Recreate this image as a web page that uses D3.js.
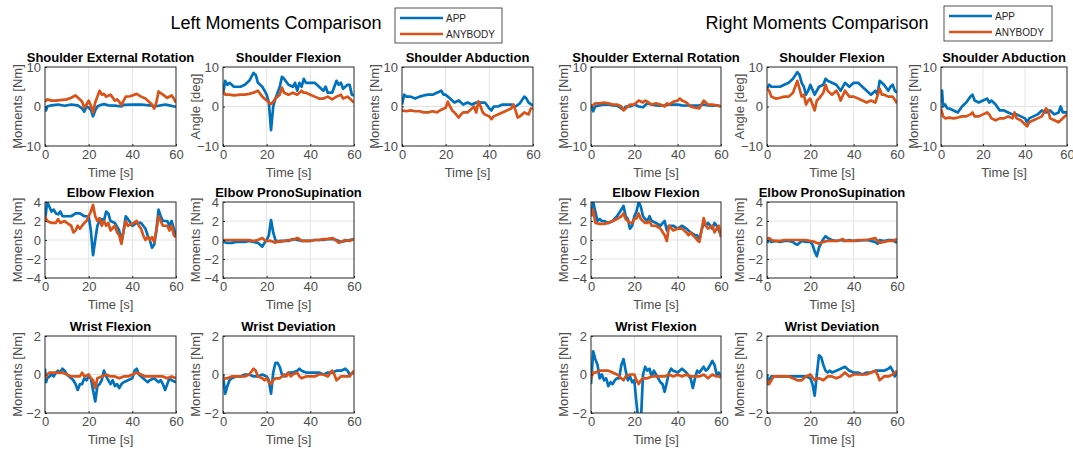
<!DOCTYPE html>
<html>
<head>
<meta charset="utf-8">
<script src="https://cdn.jsdelivr.net/npm/d3@7"></script>
<style>
body { margin: 0; background: #fff; }
svg { display: block; font-family: "Liberation Sans", Arial, sans-serif; }
</style>
</head>
<body>
<svg id="chart" width="1073" height="451"></svg>
<script>
// tick labels / legend
const xTicks = [0, 20, 40, 60]
const yTicksShoulder = [-10, 0, 10]
const yTicksElbow = [-4, -2, 0, 2, 4]
const yTicksWrist = [-2, 0, 2]
const seriesNames = ['APP', 'ANYBODY']
const groupTitles = ['Left Moments Comparison', 'Right Moments Comparison']

// --- left side, [time s, value] ---
const lShExtApp = [[0,0],[0.5,-1],[1,0],[3,0.3],[6,0.5],[9,0.2],[12,0.5],[15,0.3],[17,-0.5],[18,-1.3],[19,0],[20,-0.3],[21,-0.8],[22,-2.5],[23,-1],[24,0],[25,0.3],[27,0.6],[29,0.3],[32,0.2],[35,0],[36,0.4],[40,0.5],[44,0.5],[48,0.3],[50,0],[52,0.2],[55,0.5],[57,0.3],[59,0],[60,0]]
const lShExtAny = [[0,1.2],[1,1.8],[3,1.5],[5,1.5],[8,1.7],[10,1.8],[12,2.2],[14,2.8],[16,1.8],[17,1.2],[18,-0.3],[19,0.5],[20,1.5],[21,0.2],[22,-1.5],[23,1],[24,2.5],[25,4],[26,3],[27,3.2],[28,2.5],[30,3],[32,1.5],[33,1.8],[34,1.2],[35,0.3],[36,1.5],[37,2.5],[39,2.6],[42,3.2],[44,2.5],[46,2],[48,1],[49,0.5],[50,-0.5],[51,1],[52,3.8],[54,3],[56,2.2],[58,2.8],[59,2],[60,1]]
const lShFlexApp = [[0,3],[1,6.5],[2,5.5],[3,6],[5,5],[8,5],[10,5.5],[12,6.5],[14,8.5],[15,8],[16,6],[18,5],[19,4],[20,3],[21,1],[22,-6],[23,0],[24,2],[26,5],[27,7.5],[28,7],[30,5.5],[32,5],[33,6],[34,4],[35,6],[36,5],[37,7],[38,6],[40,6],[42,6],[44,5],[46,4],[47,5],[48,3.5],[50,3.5],[52,6.5],[53,5.5],[54,6],[55,4.5],[57,5.5],[58,5.5],[59,3],[60,2.8]]
const lShFlexAny = [[0,4],[1,3],[3,3],[5,2.8],[8,3],[10,3],[12,3.2],[14,3.5],[16,4],[18,2.5],[20,1.5],[21,1],[22,0.6],[23,1.2],[24,2],[26,3],[27,4.8],[28,3.5],[30,3],[32,3.5],[34,3],[36,4],[37,3.5],[38,3.5],[40,3],[42,2.5],[44,2],[46,2],[48,2.5],[50,1.8],[52,2.5],[54,3],[55,2],[57,2.5],[58,2],[60,1]]
const lShAbdApp = [[0,0.5],[1,3],[2,2.5],[4,2.5],[6,2],[8,2.5],[10,2.8],[12,3],[14,3],[16,3.5],[18,4],[19,3],[20,3],[22,2],[24,1],[26,1.5],[28,0.5],[30,1],[32,0.5],[34,1],[36,1],[38,1],[40,-0.5],[41,-1],[42,0],[44,0],[46,0.5],[48,0.5],[50,0.5],[52,0],[54,0.8],[56,2.5],[57,2],[58,1],[60,0.2]]
const lShAbdAny = [[0,-1],[2,-1.2],[4,-1],[6,-1.2],[8,-1.2],[10,-1.5],[12,-1.5],[14,-1.2],[16,-1.5],[18,-0.8],[20,-0.3],[21,1.2],[22,0],[23,-1],[24,-1.5],[26,-2.8],[27,-2],[28,-1.5],[30,-1.5],[32,-0.5],[33,0],[34,-1.5],[35,1.3],[36,0],[37,-1.5],[38,-2],[40,-2.5],[41,-3.2],[42,-2.5],[44,-2],[46,-1.5],[48,-1],[50,-0.5],[51,0.5],[52,-1],[53,-2.8],[54,-2.5],[56,-1.5],[58,-2],[59,-0.5],[60,-0.5]]
const lElFlexApp = [[0,2],[1,4],[2,3.5],[3,3],[4,3.2],[5,2.8],[6,2.7],[7,3],[8,2.5],[10,2.5],[12,2.5],[14,2.8],[16,2.8],[18,2.5],[20,2.5],[21,1],[22,-1.6],[23,0],[24,1.5],[25,2],[26,2.2],[27,2],[28,3],[29,2.8],[30,2],[32,1.8],[34,1],[35,-0.3],[36,1],[37,2.5],[38,2.2],[40,1.5],[42,1.8],[44,1.8],[45,1.5],[46,1.2],[47,0.5],[48,0],[49,-0.8],[50,-0.5],[51,1],[52,3.2],[53,2.5],[54,2],[56,2],[57,1.5],[58,2],[59,1.2],[60,0.3]]
const lElFlexAny = [[0,2.5],[1,2],[3,1.8],[5,1.8],[6,2.2],[7,1.8],[9,2],[10,1.8],[12,1.5],[13,0.8],[14,1],[15,1.5],[16,1.2],[17,1.5],[18,1.8],[19,2],[20,2.5],[21,3],[22,3.7],[23,2.5],[24,2],[25,2.3],[26,1.5],[27,2],[28,1.5],[29,1.8],[30,1],[32,1.5],[33,0.8],[34,0.5],[35,-0.4],[36,1],[37,2],[38,1.5],[40,1.7],[42,2],[43,1.5],[44,1.2],[45,0.5],[46,0],[47,0.3],[48,0],[49,0.3],[50,-0.2],[51,1],[52,2.5],[53,2],[54,1.5],[56,1.5],[57,1],[58,1.5],[59,0.5],[60,0.3]]
const lElProApp = [[0,-0.2],[2,-0.3],[4,-0.3],[6,-0.2],[8,-0.2],[10,-0.2],[12,-0.1],[14,-0.2],[16,-0.3],[17,-0.5],[18,-0.7],[19,-0.3],[20,0],[21,0.5],[22,2.1],[23,0.8],[24,0],[25,-0.2],[26,-0.1],[30,-0.1],[32,0.1],[34,0],[36,-0.1],[40,-0.1],[42,0],[46,0],[48,0.1],[50,0.1],[52,0],[54,-0.2],[56,-0.1],[58,0],[60,0.1]]
const lElProAny = [[0,0],[4,0],[8,0],[12,0],[14,-0.1],[16,0],[18,0.2],[19,0],[20,-0.1],[22,-0.1],[24,-0.3],[25,-0.1],[26,-0.2],[28,-0.1],[30,0],[32,0],[34,0.2],[35,0.1],[36,-0.1],[40,-0.1],[42,0],[44,0],[46,0.1],[48,0.1],[50,0.2],[51,0.1],[52,-0.1],[53,-0.3],[54,-0.2],[56,0],[58,-0.1],[60,0.1]]
const lWrFlexApp = [[0,0.3],[0.5,-0.4],[1,-0.2],[2,-0.1],[3,0],[4,-0.1],[5,0.1],[6,0.2],[7,0.1],[8,0.3],[9,0.2],[10,0],[12,-0.2],[13,-0.3],[14,-0.5],[15,-0.8],[16,-0.5],[17,-0.5],[18,-0.2],[19,-0.3],[20,-0.1],[21,-0.2],[22,-0.8],[23,-1.4],[24,-0.6],[25,-0.5],[26,-0.3],[27,0.2],[28,-0.1],[30,-0.5],[31,-0.3],[32,-0.6],[33,-0.5],[34,-0.7],[35,-0.5],[36,-0.4],[38,-0.3],[40,-0.2],[41,0.2],[42,0.3],[43,0],[44,-0.1],[46,-0.3],[47,-0.4],[48,-0.3],[50,-0.2],[52,-0.4],[53,-0.3],[54,-0.5],[55,-0.8],[56,-0.5],[57,-0.2],[58,-0.3],[60,-0.4]]
const lWrFlexAny = [[0,-0.2],[1,0],[2,0.1],[4,0.1],[6,0.1],[8,0.1],[10,0],[12,-0.1],[14,-0.1],[16,-0.1],[17,0.1],[18,-0.1],[20,0],[21,-0.2],[22,-0.3],[23,-0.7],[24,-0.2],[26,-0.1],[28,0],[30,-0.1],[32,-0.1],[34,-0.2],[36,-0.1],[38,-0.1],[40,0],[42,0.1],[44,0],[46,-0.1],[50,-0.1],[54,-0.1],[56,-0.2],[58,-0.1],[60,-0.2]]
const lWrDevApp = [[0,0],[0.5,-0.5],[1,-1],[2,-0.6],[3,-0.3],[4,-0.2],[6,-0.1],[8,-0.1],[10,0],[12,0],[14,-0.1],[16,-0.1],[18,0],[20,-0.1],[21,-0.3],[22,-1],[23,0.1],[24,0.6],[25,0.6],[26,0.4],[27,0],[28,-0.1],[29,0],[30,0.1],[32,0.1],[34,0.2],[35,0.3],[36,0.2],[38,0.1],[44,0.1],[46,0],[48,0.1],[50,0.1],[52,0.2],[54,0.2],[56,0.3],[57,0.2],[58,0],[60,0.1]]
const lWrDevAny = [[0,-0.2],[2,-0.2],[4,-0.1],[10,-0.1],[12,0],[14,0.3],[15,0.2],[16,-0.1],[18,-0.2],[19,-0.3],[20,-0.2],[21,-0.4],[22,-0.5],[23,-0.3],[24,-0.2],[26,-0.2],[28,0],[29,-0.1],[30,0.1],[31,-0.1],[32,0],[34,0.1],[35,-0.1],[36,-0.2],[38,-0.1],[42,-0.1],[44,0],[46,0],[48,-0.1],[50,0.2],[51,0],[52,-0.3],[54,-0.1],[58,-0.1],[60,0.2]]

// --- right side ---
const rShExtApp = [[0,0.5],[1,-1.2],[2,0],[4,0.3],[6,0.5],[8,0.5],[10,0.3],[12,0.2],[14,-0.5],[15,-0.8],[16,0],[18,0],[20,0.5],[22,0],[24,-0.2],[25,0.3],[26,0.8],[28,0.5],[30,0.3],[32,0.2],[34,0.3],[36,0.5],[40,0.5],[42,0.3],[48,0.2],[50,0.3],[52,0.5],[54,0.3],[56,0.2],[58,0.3],[60,0]]
const rShExtAny = [[0,0],[1,0.3],[2,0.8],[4,0.8],[6,1],[8,0.8],[10,0.5],[12,0.5],[14,0],[15,-1],[16,-0.5],[18,0.5],[20,0.5],[22,1.5],[24,1],[25,1.5],[26,1.2],[28,0.5],[30,0.8],[32,0.5],[34,0],[35,0.8],[36,0.5],[38,1.2],[40,1.5],[41,2],[42,1.5],[44,1],[46,0],[48,-0.3],[50,-0.5],[51,0.5],[52,1.5],[54,0.5],[56,0.5],[58,0.3],[60,0]]
const rShFlexApp = [[0,4.5],[1,5.5],[2,5],[4,5],[6,5],[8,5.5],[10,6],[12,7],[14,8.7],[15,8],[16,6],[17,5],[18,3],[19,4],[20,5.5],[22,3],[24,5],[26,5.5],[27,7],[28,6.5],[30,6],[32,5.5],[34,4],[36,6],[38,5],[40,6],[42,6],[44,5],[46,4],[48,3],[50,4],[51,3],[52,6.5],[54,5.5],[56,4],[57,5],[58,5.5],[59,4],[60,3.5]]
const rShFlexAny = [[0,4.5],[1,4],[2,2.5],[4,2],[6,2.2],[8,2.5],[10,2.5],[12,3.5],[14,6.5],[15,4.5],[16,2.5],[17,3],[18,0.5],[19,1.5],[20,2],[21,0.5],[22,-1],[23,1.5],[24,2],[26,3.5],[27,5.5],[28,4],[30,3],[32,4],[33,3],[34,1.5],[36,4],[38,2.5],[40,2.5],[42,2],[44,1.5],[46,1],[48,1.5],[50,1],[52,4.5],[53,3],[54,3],[56,2.5],[58,2.5],[60,0.8]]
const rShAbdApp = [[0,1],[0.5,4],[1,0],[2,0.5],[3,-0.5],[4,-0.5],[6,-1],[8,-1.5],[10,0],[12,1],[14,2.5],[15,3],[16,1.5],[18,1],[20,1.5],[22,2],[23,1],[24,1.5],[26,0.5],[28,-1],[30,-1],[32,-1.5],[34,-2],[36,-2],[38,-2.5],[40,-3],[41,-4],[42,-3],[44,-2.5],[46,-2],[48,-1],[50,-1.5],[52,-1],[54,-2],[56,-1.5],[57,0],[58,-1.5],[60,-1.5]]
const rShAbdAny = [[0,-0.5],[1,-2.5],[2,-3],[4,-2.8],[6,-3],[8,-2.8],[10,-2.5],[12,-2.5],[14,-2],[15,-1.5],[16,-2.5],[18,-2.5],[20,-2],[22,-1.5],[23,-2],[24,-3],[26,-3.5],[28,-3],[30,-3],[32,-2.5],[34,-3],[35,-1.5],[36,-3],[38,-3.5],[40,-4.5],[41,-5],[42,-4],[44,-3.5],[46,-3],[48,-2.5],[50,-0.5],[51,-1],[52,-3],[54,-3.5],[56,-4],[58,-3],[60,-2]]
const rElFlexApp = [[0,2.5],[1,4],[2,3],[3,2],[4,2.2],[5,2],[6,2],[8,1.8],[10,2],[12,2.5],[14,3.2],[15,3.6],[16,2.5],[17,2.2],[18,1.2],[19,1.5],[20,2.5],[21,3],[22,4],[23,3.5],[24,2.5],[25,2.2],[26,2],[27,2.5],[28,2],[30,1.8],[32,1.5],[34,2],[35,1],[36,1.5],[38,1.5],[40,1.2],[42,1.5],[44,1.2],[45,1],[46,0.8],[48,0.5],[49,0.5],[50,0],[51,1],[52,1.8],[53,1.5],[54,1.8],[56,1.2],[57,1.8],[58,1.5],[59,1],[60,0.5]]
const rElFlexAny = [[0,2.5],[1,3.2],[2,1.8],[4,1.7],[6,1.7],[8,1.8],[10,2],[12,2.2],[14,2.5],[15,2.8],[16,2.2],[18,1.8],[19,1.8],[20,2.2],[21,2.3],[22,2.8],[23,2.2],[24,2],[25,1.8],[26,1.8],[27,2],[28,1.5],[30,1.5],[32,1.2],[34,0.5],[35,-0.1],[36,1.5],[38,1],[40,1.2],[42,1.2],[43,1],[44,0.8],[45,0.5],[46,0.8],[47,0.5],[48,0.3],[49,0],[50,-0.2],[51,1],[52,2.3],[53,1.5],[54,1.2],[56,1.5],[57,0.8],[58,1.2],[59,1.5],[60,0.3]]
const rElProApp = [[0,-0.3],[1,0],[2,-0.2],[4,-0.1],[6,-0.2],[8,-0.1],[10,-0.1],[12,-0.2],[13,-0.4],[14,-0.5],[15,-0.3],[16,-0.1],[18,-0.2],[20,-0.2],[21,-0.5],[22,-1.2],[23,-1.7],[24,-0.8],[25,-0.3],[26,0.1],[27,0.4],[28,0.2],[30,0],[32,-0.1],[34,0],[36,-0.1],[38,0],[40,-0.1],[46,0],[48,-0.1],[50,-0.2],[51,-0.4],[52,0],[54,-0.1],[56,0],[58,0],[60,-0.3]]
const rElProAny = [[0,0.1],[1,0.2],[2,0],[4,-0.1],[6,-0.1],[8,0],[18,0],[20,-0.1],[22,-0.2],[24,-0.4],[25,-0.3],[26,-0.2],[28,-0.1],[32,-0.1],[34,0],[35,0.1],[36,-0.1],[40,-0.1],[42,0],[46,0],[48,0.1],[50,0.2],[51,-0.1],[52,-0.3],[54,-0.2],[56,-0.1],[58,-0.1],[60,0.1]]
const rWrFlexApp = [[0,-0.5],[0.5,0.3],[1,1.2],[2,0.8],[3,0.5],[4,-0.2],[5,0],[6,-0.3],[7,-0.2],[8,-0.6],[9,-0.4],[10,-0.5],[11,-0.3],[12,-0.2],[13,-0.2],[14,0.5],[15,0.8],[16,0.2],[17,-0.3],[18,-0.1],[19,-0.4],[20,-0.3],[21,-1.5],[22,-2.5],[23,-2.5],[24,0],[25,0.4],[26,0.2],[27,0.3],[28,-0.1],[29,0.2],[30,0],[32,-0.4],[33,-0.5],[34,-0.9],[35,-0.4],[36,0.1],[37,0.3],[38,0.2],[40,0.1],[42,0.3],[44,0.1],[46,-0.2],[47,-0.7],[48,-0.2],[49,0.2],[50,0.1],[52,0.4],[53,0.2],[54,0.3],[55,0.5],[56,0.7],[57,0.5],[58,0],[59,0.1],[60,-0.2]]
const rWrFlexAny = [[0,-0.2],[1,0.1],[2,0.1],[4,0.2],[6,0.2],[8,0.2],[10,0.1],[12,0],[14,-0.2],[15,-0.3],[16,-0.1],[18,0],[20,0],[21,-0.3],[22,-0.5],[23,-0.3],[24,-0.2],[26,-0.2],[28,-0.1],[34,-0.1],[36,0],[38,-0.1],[40,0],[42,-0.1],[44,0],[46,-0.1],[50,-0.1],[52,0],[54,-0.2],[56,0],[58,-0.1],[60,-0.1]]
const rWrDevApp = [[0,0],[0.5,-0.5],[1,-0.3],[2,-0.1],[18,-0.1],[20,-0.2],[21,-0.5],[22,-1.1],[23,0],[24,1],[25,0.9],[26,0.5],[27,0.2],[28,0.1],[29,0.2],[30,0.1],[32,0.2],[34,0.3],[36,0.4],[37,0.3],[38,0.2],[40,0.1],[42,0.1],[44,0],[46,0.1],[48,0.1],[50,0.2],[54,0.2],[56,0.3],[57,0.4],[58,0.2],[59,-0.1],[60,0.1]]
const rWrDevAny = [[0,-0.3],[1,-0.5],[2,-0.3],[3,-0.1],[10,-0.1],[12,-0.2],[14,-0.3],[16,-0.3],[17,-0.2],[18,-0.1],[20,0],[22,-0.3],[23,-0.2],[24,-0.2],[26,-0.3],[28,-0.1],[30,-0.1],[32,-0.2],[34,-0.1],[35,0],[36,0.1],[38,-0.1],[40,0],[46,0],[48,0.1],[50,0.2],[51,0],[52,-0.3],[54,-0.1],[56,-0.1],[58,0],[60,0.2]]

const COLORS = ['#0072BD', '#D95319']
const TEXT = '#262626'
const LABEL = '#4d4d4d'

/*
* Layout
*/
const colX = [[45, 223, 402], [591, 767, 941]]
const colW = [[131, 131, 131], [130, 130, 126]]
const rows = [{ top: 67, h: 79 }, { top: 202, h: 76 }, { top: 336, h: 77 }]

const panels = [
  // left
  { side: 0, row: 0, col: 0, title: 'Shoulder External Rotation', yl: 'Moments [Nm]', ticks: yTicksShoulder, app: lShExtApp, any: lShExtAny },
  { side: 0, row: 0, col: 1, title: 'Shoulder Flexion', yl: 'Angle [deg]', ticks: yTicksShoulder, app: lShFlexApp, any: lShFlexAny },
  { side: 0, row: 0, col: 2, title: 'Shoulder Abduction', yl: 'Moments [Nm]', ticks: yTicksShoulder, app: lShAbdApp, any: lShAbdAny },
  { side: 0, row: 1, col: 0, title: 'Elbow Flexion', yl: 'Moments [Nm]', ticks: yTicksElbow, app: lElFlexApp, any: lElFlexAny },
  { side: 0, row: 1, col: 1, title: 'Elbow PronoSupination', yl: 'Moments [Nm]', ticks: yTicksElbow, app: lElProApp, any: lElProAny },
  { side: 0, row: 2, col: 0, title: 'Wrist Flexion', yl: 'Moments [Nm]', ticks: yTicksWrist, app: lWrFlexApp, any: lWrFlexAny },
  { side: 0, row: 2, col: 1, title: 'Wrist Deviation', yl: 'Moments [Nm]', ticks: yTicksWrist, app: lWrDevApp, any: lWrDevAny },
  // right
  { side: 1, row: 0, col: 0, title: 'Shoulder External Rotation', yl: 'Moments [Nm]', ticks: yTicksShoulder, app: rShExtApp, any: rShExtAny },
  { side: 1, row: 0, col: 1, title: 'Shoulder Flexion', yl: 'Angle [deg]', ticks: yTicksShoulder, app: rShFlexApp, any: rShFlexAny },
  { side: 1, row: 0, col: 2, title: 'Shoulder Abduction', yl: 'Moments [Nm]', ticks: yTicksShoulder, app: rShAbdApp, any: rShAbdAny },
  { side: 1, row: 1, col: 0, title: 'Elbow Flexion', yl: 'Moments [Nm]', ticks: yTicksElbow, app: rElFlexApp, any: rElFlexAny },
  { side: 1, row: 1, col: 1, title: 'Elbow PronoSupination', yl: 'Moments [Nm]', ticks: yTicksElbow, app: rElProApp, any: rElProAny },
  { side: 1, row: 2, col: 0, title: 'Wrist Flexion', yl: 'Moments [Nm]', ticks: yTicksWrist, app: rWrFlexApp, any: rWrFlexAny },
  { side: 1, row: 2, col: 1, title: 'Wrist Deviation', yl: 'Moments [Nm]', ticks: yTicksWrist, app: rWrDevApp, any: rWrDevAny }
]

const svg = d3.select('#chart')

panels.forEach((p, i) => {
  const x0 = colX[p.side][p.col]
  const r = rows[p.row]
  const w = colW[p.side][p.col], h = r.h
  const yDom = d3.extent(p.ticks)

  const xScale = d3.scaleLinear().domain([0, 60]).range([0, w])
  const yScale = d3.scaleLinear().domain(yDom).range([h, 0])

  const g = svg.append('g').attr('transform', `translate(${x0},${r.top})`)

  // grid
  g.append('g').selectAll('line')
    .data(xTicks.slice(1, -1))
    .join('line')
    .attr('x1', d => xScale(d)).attr('x2', d => xScale(d))
    .attr('y1', 0).attr('y2', h)
    .attr('stroke', '#e3e3e3').attr('stroke-width', 1)
  g.append('g').selectAll('line')
    .data(p.ticks.slice(1, -1))
    .join('line')
    .attr('y1', d => yScale(d)).attr('y2', d => yScale(d))
    .attr('x1', 0).attr('x2', w)
    .attr('stroke', '#e3e3e3').attr('stroke-width', 1)

  // lines
  const clipId = 'clip' + i
  g.append('clipPath').attr('id', clipId)
    .append('rect').attr('x', 0).attr('y', 0).attr('width', w).attr('height', h)

  const line = d3.line().x(d => xScale(d[0])).y(d => yScale(d[1]))
  g.append('g').attr('clip-path', `url(#${clipId})`)
    .selectAll('path')
    .data([p.app, p.any])
    .join('path')
    .attr('d', line)
    .attr('fill', 'none')
    .attr('stroke', (d, k) => COLORS[k])
    .attr('stroke-width', 2.7)
    .attr('stroke-linejoin', 'round')

  // axes
  const ax = g.append('g').attr('transform', `translate(0,${h})`)
    .call(d3.axisBottom(xScale).tickValues(xTicks).tickFormat(d3.format('d'))
      .tickSizeInner(-2).tickSizeOuter(0).tickPadding(4))
  const ay = g.append('g')
    .call(d3.axisLeft(yScale).tickValues(p.ticks).tickFormat(d3.format('d'))
      .tickSizeInner(-2).tickSizeOuter(0).tickPadding(4))
  ;[ax, ay].forEach(a => {
    a.attr('font-size', null).attr('font-family', null)
    a.select('.domain').remove()
    a.selectAll('line').attr('stroke', TEXT)
    a.selectAll('text').attr('fill', LABEL).style('font-size', '13px')
  })

  // box
  g.append('rect').attr('width', w).attr('height', h)
    .attr('fill', 'none').attr('stroke', TEXT).attr('stroke-width', 1)

  // labels
  g.append('text')
    .attr('x', w / 2).attr('y', -5)
    .attr('text-anchor', 'middle')
    .attr('font-weight', 'bold').attr('font-size', 13).attr('fill', '#000')
    .text(p.title)
  g.append('text')
    .attr('x', w / 2).attr('y', h + 31)
    .attr('text-anchor', 'middle')
    .attr('font-size', 13).attr('fill', LABEL)
    .text('Time [s]')
  g.append('text')
    .attr('transform', `translate(-23,${h / 2}) rotate(-90)`)
    .attr('text-anchor', 'middle')
    .attr('font-size', 13).attr('fill', LABEL)
    .text(p.yl)
})

/*
* Group titles + legends
*/
const titleX = [276, 817]
const legendBox = [{ x: 395, y: 8, w: 107, h: 35 }, { x: 944, y: 6, w: 108, h: 35 }]

groupTitles.forEach((t, s) => {
  svg.append('text')
    .attr('x', titleX[s]).attr('y', 29)
    .attr('text-anchor', 'middle')
    .attr('font-size', 18).attr('fill', '#000')
    .text(t)

  const b = legendBox[s]
  const lg = svg.append('g').attr('transform', `translate(${b.x},${b.y})`)
  lg.append('rect').attr('width', b.w).attr('height', b.h)
    .attr('fill', '#fff').attr('stroke', '#262626').attr('stroke-width', 0.8)
  const items = lg.selectAll('g').data(seriesNames).join('g')
    .attr('transform', (d, k) => `translate(0,${10 + k * 16})`)
  items.append('line')
    .attr('x1', 5).attr('x2', 48).attr('y1', 0).attr('y2', 0)
    .attr('stroke', (d, k) => COLORS[k]).attr('stroke-width', 2.6)
  items.append('text')
    .attr('x', 51).attr('y', 4)
    .attr('font-size', 10).attr('fill', '#262626')
    .text(d => d)
})
</script>
</body>
</html>
